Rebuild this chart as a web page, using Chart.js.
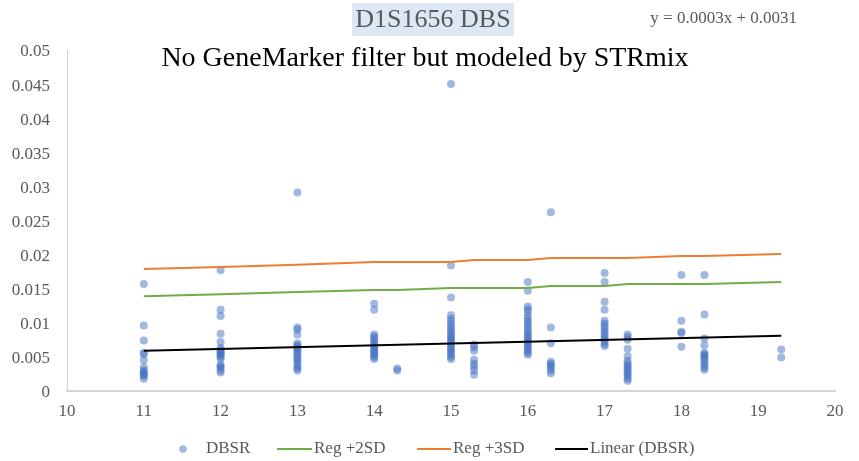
<!DOCTYPE html>
<html>
<head>
<meta charset="utf-8">
<script src="https://cdn.jsdelivr.net/npm/chart.js@4"></script>
<style>
html,body{margin:0;padding:0;background:#fff;}
#wrap{width:859px;height:461px;}
</style>
</head>
<body>
<div id="wrap"><canvas id="c" width="859" height="461"></canvas></div>
<script>
// ---- data ----
const chartTitle = 'D1S1656 DBS';
const chartSubtitle = 'No GeneMarker filter but modeled by STRmix';
const equationText = 'y = 0.0003x + 0.0031';

const alleles = [11, 12, 13, 14, 14.3, 15, 15.3, 16, 16.3, 17, 17.3, 18, 18.3, 19.3];

const dbsr11 = [0.0157, 0.0096, 0.0074, 0.0056, 0.0054, 0.0045, 0.0035, 0.0030, 0.0028, 0.0026, 0.0024, 0.0022, 0.0018];
const dbsr12 = [0.0177, 0.0119, 0.0110, 0.0084, 0.0072, 0.0063, 0.0060, 0.0058, 0.0056, 0.0054, 0.0052, 0.0050, 0.0047, 0.0038, 0.0036, 0.0034, 0.0030, 0.0027];
const dbsr13 = [0.0291, 0.0093, 0.0090, 0.0083, 0.0070, 0.0067, 0.0065, 0.0062, 0.0060, 0.0057, 0.0053, 0.0050, 0.0047, 0.0044, 0.0040, 0.0036, 0.0033, 0.0030];
const dbsr14 = [0.0128, 0.0119, 0.0083, 0.0080, 0.0077, 0.0073, 0.0070, 0.0067, 0.0065, 0.0062, 0.0060, 0.0057, 0.0055, 0.0052, 0.0050, 0.0047];
const dbsr14_3 = [0.0033, 0.0030];
const dbsr15 = [0.0450, 0.0184, 0.0137, 0.0111, 0.0106, 0.0102, 0.0098, 0.0094, 0.0090, 0.0087, 0.0083, 0.0080, 0.0077, 0.0074, 0.0071, 0.0068, 0.0065, 0.0062, 0.0059, 0.0056, 0.0053, 0.0050, 0.0047];
const dbsr15_3 = [0.0068, 0.0064, 0.0059, 0.0046, 0.0040, 0.0036, 0.0030, 0.0024];
const dbsr16 = [0.0160, 0.0147, 0.0124, 0.0120, 0.0116, 0.0110, 0.0106, 0.0102, 0.0098, 0.0094, 0.0090, 0.0086, 0.0083, 0.0080, 0.0077, 0.0074, 0.0071, 0.0068, 0.0065, 0.0062, 0.0059, 0.0056, 0.0053];
const dbsr16_3 = [0.0262, 0.0093, 0.0070, 0.0043, 0.0040, 0.0037, 0.0034, 0.0030, 0.0026];
const dbsr17 = [0.0173, 0.0160, 0.0131, 0.0119, 0.0103, 0.0099, 0.0095, 0.0091, 0.0087, 0.0083, 0.0079, 0.0076, 0.0073, 0.0069, 0.0066];
const dbsr17_3 = [0.0083, 0.0079, 0.0075, 0.0062, 0.0051, 0.0044, 0.0040, 0.0037, 0.0034, 0.0031, 0.0028, 0.0025, 0.0022, 0.0018, 0.0015];
const dbsr18 = [0.0170, 0.0103, 0.0087, 0.0085, 0.0065];
const dbsr18_3 = [0.0170, 0.0112, 0.0077, 0.0067, 0.0056, 0.0054, 0.0052, 0.0049, 0.0046, 0.0042, 0.0038, 0.0034, 0.0031];
const dbsr19_3 = [0.0061, 0.0049];

const reg2SD = [0.0139, 0.0142, 0.0145, 0.0148, 0.0148, 0.0151, 0.0151, 0.0151, 0.0154, 0.0154, 0.0157, 0.0157, 0.0157, 0.0160];
const reg3SD = [0.0179, 0.0182, 0.0185, 0.0189, 0.0189, 0.0189, 0.0192, 0.0192, 0.0195, 0.0195, 0.0195, 0.0198, 0.0198, 0.0201];

const trendX = [11, 19.3];
const trendY = [0.0059, 0.0081];

const yTickValues = [0, 0.005, 0.01, 0.015, 0.02, 0.025, 0.03, 0.035, 0.04, 0.045, 0.05];
const yTickLabels = ['0', '0.005', '0.01', '0.015', '0.02', '0.025', '0.03', '0.035', '0.04', '0.045', '0.05'];
const xTickValues = [10, 11, 12, 13, 14, 15, 16, 17, 18, 19, 20];
const xTickLabels = ['10', '11', '12', '13', '14', '15', '16', '17', '18', '19', '20'];

const legendLabels = ['DBSR', 'Reg +2SD', 'Reg +3SD', 'Linear (DBSR)'];

// ---- build library data ----
const dbsrColumns = [dbsr11, dbsr12, dbsr13, dbsr14, dbsr14_3, dbsr15, dbsr15_3, dbsr16, dbsr16_3, dbsr17, dbsr17_3, dbsr18, dbsr18_3, dbsr19_3];
const scatterPts = [];
dbsrColumns.forEach((col, i) => col.forEach(v => scatterPts.push({x: alleles[i], y: v})));
const reg2Pts = alleles.map((a, i) => ({x: a, y: reg2SD[i]}));
const reg3Pts = alleles.map((a, i) => ({x: a, y: reg3SD[i]}));
const trendPts = trendX.map((a, i) => ({x: a, y: trendY[i]}));

const FONT = "'Liberation Serif', 'Times New Roman', serif";
const GRAY = '#595959';
const C_DOT = 'rgba(68,114,196,0.5)';
const C_GREEN = '#70AD47';
const C_ORANGE = '#ED7D31';
const C_BLACK = '#000000';

const decor = {
  id: 'decor',
  afterDraw(chart) {
    const ctx = chart.ctx;
    ctx.save();
    // title highlight box
    ctx.fillStyle = '#dde8f5';
    ctx.fillRect(352, 3, 162, 33);
    ctx.fillStyle = GRAY;
    ctx.font = '26px ' + FONT;
    ctx.textAlign = 'center';
    ctx.textBaseline = 'middle';
    ctx.fillText(chartTitle, 433, 20);
    // equation
    ctx.font = '17px ' + FONT;
    ctx.textAlign = 'right';
    ctx.fillText(equationText, 797, 19);
    // subtitle
    ctx.fillStyle = '#000';
    ctx.font = '28px ' + FONT;
    ctx.textAlign = 'center';
    ctx.fillText(chartSubtitle, 425, 59);
    // legend
    const ly = 449;
    ctx.font = '17px ' + FONT;
    ctx.textAlign = 'left';
    ctx.fillStyle = C_DOT;
    ctx.beginPath(); ctx.arc(183, ly, 3.8, 0, Math.PI * 2); ctx.fill();
    ctx.fillStyle = GRAY;
    ctx.fillText(legendLabels[0], 206, ly);
    const lines = [[C_GREEN, 277, 312, 314, legendLabels[1]], [C_ORANGE, 417, 451, 453, legendLabels[2]], [C_BLACK, 555, 588, 590, legendLabels[3]]];
    lines.forEach(([c, x1, x2, tx, t]) => {
      ctx.strokeStyle = c; ctx.lineWidth = 2;
      ctx.beginPath(); ctx.moveTo(x1, ly); ctx.lineTo(x2, ly); ctx.stroke();
      ctx.fillStyle = GRAY;
      ctx.fillText(t, tx, ly);
    });
    ctx.restore();
  }
};

new Chart(document.getElementById('c'), {
  type: 'scatter',
  data: {
    datasets: [
      {label: legendLabels[0], data: scatterPts, backgroundColor: C_DOT, borderWidth: 0, pointRadius: 4, pointHoverRadius: 4, order: 4},
      {label: legendLabels[1], data: reg2Pts, showLine: true, borderColor: C_GREEN, borderWidth: 2, pointRadius: 0, fill: false, order: 3},
      {label: legendLabels[2], data: reg3Pts, showLine: true, borderColor: C_ORANGE, borderWidth: 2, pointRadius: 0, fill: false, order: 2},
      {label: legendLabels[3], data: trendPts, showLine: true, borderColor: C_BLACK, borderWidth: 2, pointRadius: 0, fill: false, order: 1}
    ]
  },
  options: {
    responsive: false,
    animation: false,
    devicePixelRatio: 1,
    layout: {padding: {top: 50, right: 24, bottom: 0, left: 0}},
    plugins: {legend: {display: false}, title: {display: false}, tooltip: {enabled: false}},
    scales: {
      x: {
        type: 'linear', min: 10, max: 20,
        grid: {display: false, drawTicks: false},
        border: {display: true, color: '#d4d4d4', width: 2},
        afterBuildTicks: s => { s.ticks = xTickValues.map(v => ({value: v})); },
        afterFit: s => { s.height = 70; },
        ticks: {padding: 10, color: GRAY, font: {family: FONT, size: 17}, maxRotation: 0, autoSkip: false,
          callback: (v, i) => xTickLabels[i]}
      },
      y: {
        type: 'linear', min: 0, max: 0.05,
        grid: {display: false, drawTicks: false},
        border: {display: true, color: '#d4d4d4', width: 1},
        afterBuildTicks: s => { s.ticks = yTickValues.map(v => ({value: v})); },
        afterFit: s => { s.width = 67; },
        ticks: {padding: 17, labelOffset: 2, color: GRAY, font: {family: FONT, size: 17}, autoSkip: false,
          callback: (v, i) => yTickLabels[i]}
      }
    }
  },
  plugins: [decor]
});
</script>
</body>
</html>
